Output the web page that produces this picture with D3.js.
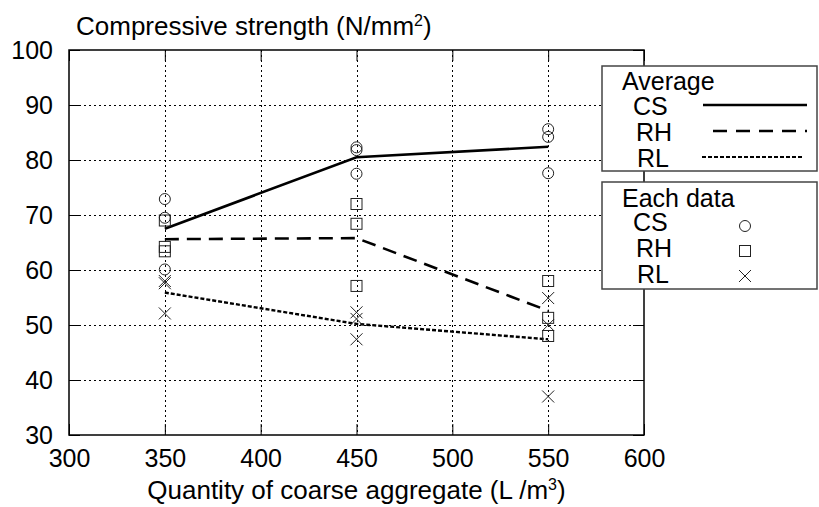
<!DOCTYPE html>
<html>
<head>
<meta charset="utf-8">
<script src="https://cdn.jsdelivr.net/npm/d3@7"></script>
<style>
  body { margin: 0; background: #fff; }
  text { font-family: "Liberation Sans", Arial, sans-serif; fill: #000; }
</style>
</head>
<body>
<div id="chart"></div>
<script>
// quantity of coarse aggregate (L/m3)
let quantities = [350, 450, 550];

// each specimen, three per quantity
let csPoints = [[72.9, 69.5, 60.1], [82.3, 81.8, 77.5], [85.6, 84.2, 77.6]];
let rhPoints = [[69.0, 64.2, 63.4], [72.0, 68.4, 57.1], [58.0, 51.3, 48.0]];
let rlPoints = [[58.0, 57.6, 52.1], [52.3, 51.1, 47.4], [54.9, 50.0, 37.0]];

// averages
let csAvg = [67.5, 80.5, 82.4];
let rhAvg = [65.6, 65.8, 52.6];
let rlAvg = [55.9, 50.2, 47.4];

// axis ticks
let xTicks = [300, 350, 400, 450, 500, 550, 600];
let yTicks = [30, 40, 50, 60, 70, 80, 90, 100];

let svgWidth = 819;
let svgHeight = 507;

let plot = { left: 69, right: 644, top: 50, bottom: 435 };

let svg = d3.select('#chart')
  .append('svg')
  .attr('width', svgWidth)
  .attr('height', svgHeight);

let x = d3.scaleLinear().domain([300, 600]).range([plot.left, plot.right]);
let y = d3.scaleLinear().domain([30, 100]).range([plot.bottom, plot.top]);

// grid
let grid = svg.append('g')
  .attr('stroke', '#000')
  .attr('stroke-width', 1)
  .attr('stroke-dasharray', '2,3');

grid.selectAll('.vgrid')
  .data(xTicks.slice(1, -1))
  .enter()
  .append('line')
  .attr('x1', d => Math.round(x(d)) + 0.5)
  .attr('x2', d => Math.round(x(d)) + 0.5)
  .attr('y1', plot.top)
  .attr('y2', plot.bottom);

grid.selectAll('.hgrid')
  .data(yTicks.slice(1, -1))
  .enter()
  .append('line')
  .attr('x1', plot.left)
  .attr('x2', plot.right)
  .attr('y1', d => Math.round(y(d)) + 0.5)
  .attr('y2', d => Math.round(y(d)) + 0.5);

// axes, ticks pointing inwards like gnuplot
function styleAxis(g) {
  g.select('.domain').remove();
  g.selectAll('.tick line').attr('stroke', '#000').attr('stroke-width', 1);
  g.selectAll('.tick text')
    .style('font-family', '"Liberation Sans", Arial, sans-serif')
    .style('font-size', '25px')
    .attr('fill', '#000');
}

svg.append('g')
  .attr('transform', `translate(0, ${plot.bottom})`)
  .call(d3.axisBottom(x).tickValues(xTicks).tickSizeInner(-11).tickSizeOuter(0).tickPadding(14))
  .call(styleAxis);

svg.append('g')
  .attr('transform', `translate(0, ${plot.top})`)
  .call(d3.axisTop(x).tickValues(xTicks).tickSizeInner(-11).tickSizeOuter(0).tickFormat(''))
  .call(styleAxis);

svg.append('g')
  .attr('transform', `translate(${plot.left}, 0)`)
  .call(d3.axisLeft(y).tickValues(yTicks).tickSizeInner(-11).tickSizeOuter(0).tickPadding(16))
  .call(styleAxis);

svg.append('g')
  .attr('transform', `translate(${plot.right}, 0)`)
  .call(d3.axisRight(y).tickValues(yTicks).tickSizeInner(-11).tickSizeOuter(0).tickFormat(''))
  .call(styleAxis);

// border
svg.append('rect')
  .attr('x', plot.left)
  .attr('y', plot.top)
  .attr('width', plot.right - plot.left)
  .attr('height', plot.bottom - plot.top)
  .attr('fill', 'none')
  .attr('stroke', '#000')
  .attr('stroke-width', 1.5);

// average lines
let line = d3.line()
  .x((d, i) => x(quantities[i]))
  .y(d => y(d));

let lineStyles = [
  { data: csAvg, dash: null, width: 2.6 },
  { data: rhAvg, dash: '14,8', width: 2.6 },
  { data: rlAvg, dash: '4,2', width: 2.4 }
];

lineStyles.forEach(function (s) {
  svg.append('path')
    .datum(s.data)
    .attr('d', line)
    .attr('fill', 'none')
    .attr('stroke', '#000')
    .attr('stroke-width', s.width)
    .attr('stroke-dasharray', s.dash);
});

// point symbols
function drawSymbol(g, type, cx, cy) {
  if (type === 'circle') {
    g.append('circle')
      .attr('cx', cx).attr('cy', cy).attr('r', 5.5)
      .attr('fill', 'none').attr('stroke', '#222').attr('stroke-width', 1);
  } else if (type === 'square') {
    g.append('rect')
      .attr('x', cx - 5.5).attr('y', cy - 5.5)
      .attr('width', 11).attr('height', 11)
      .attr('fill', 'none').attr('stroke', '#222').attr('stroke-width', 1);
  } else {
    g.append('path')
      .attr('d', `M${cx - 6},${cy - 6}L${cx + 6},${cy + 6}M${cx - 6},${cy + 6}L${cx + 6},${cy - 6}`)
      .attr('fill', 'none').attr('stroke', '#222').attr('stroke-width', 1);
  }
}

let points = svg.append('g');
[[csPoints, 'circle'], [rhPoints, 'square'], [rlPoints, 'cross']].forEach(function (set) {
  set[0].forEach(function (vals, i) {
    vals.forEach(function (v) {
      drawSymbol(points, set[1], x(quantities[i]), y(v));
    });
  });
});

// axis titles
let yTitle = svg.append('text')
  .attr('x', 76)
  .attr('y', 35)
  .style('font-size', '26px');
yTitle.append('tspan').text('Compressive strength (N/mm');
yTitle.append('tspan').attr('dy', -9).style('font-size', '16px').text('2');
yTitle.append('tspan').attr('dy', 9).text(')');

let xTitle = svg.append('text')
  .attr('x', (plot.left + plot.right) / 2)
  .attr('y', 499)
  .attr('text-anchor', 'middle')
  .style('font-size', '26px');
xTitle.append('tspan').text('Quantity of coarse aggregate (L /m');
xTitle.append('tspan').attr('dy', -9).style('font-size', '16px').text('3');
xTitle.append('tspan').attr('dy', 9).text(')');

// legend: averages
let legend = svg.append('g');

legend.append('rect')
  .attr('x', 602).attr('y', 66)
  .attr('width', 215).attr('height', 105)
  .attr('fill', '#fff').attr('stroke', '#444').attr('stroke-width', 1.5);

legend.append('rect')
  .attr('x', 602).attr('y', 182)
  .attr('width', 215).attr('height', 107)
  .attr('fill', '#fff').attr('stroke', '#444').attr('stroke-width', 1.5);

let seriesNames = ['CS', 'RH', 'RL'];
let nameX = [633, 636, 637];

legend.append('text').attr('x', 622).attr('y', 90).style('font-size', '25px').text('Average');
seriesNames.forEach(function (name, i) {
  legend.append('text').attr('x', nameX[i]).attr('y', 115 + i * 26).style('font-size', '25px').text(name);
});

let legendLines = [
  { x1: 703, x2: 807, y: 105, dash: null, width: 2.6 },
  { x1: 713, x2: 807, y: 131, dash: '14,9', width: 2.6 },
  { x1: 702, x2: 802, y: 157, dash: '4,2', width: 2 }
];
legendLines.forEach(function (l) {
  legend.append('line')
    .attr('x1', l.x1).attr('x2', l.x2)
    .attr('y1', l.y).attr('y2', l.y)
    .attr('stroke', '#000')
    .attr('stroke-width', l.width)
    .attr('stroke-dasharray', l.dash);
});

// legend: each data
legend.append('text').attr('x', 622).attr('y', 207).style('font-size', '25px').text('Each data');
seriesNames.forEach(function (name, i) {
  legend.append('text').attr('x', nameX[i]).attr('y', 231 + i * 26).style('font-size', '25px').text(name);
});
drawSymbol(legend, 'circle', 745, 226);
drawSymbol(legend, 'square', 745, 251);
drawSymbol(legend, 'cross', 745, 276);
</script>
</body>
</html>
